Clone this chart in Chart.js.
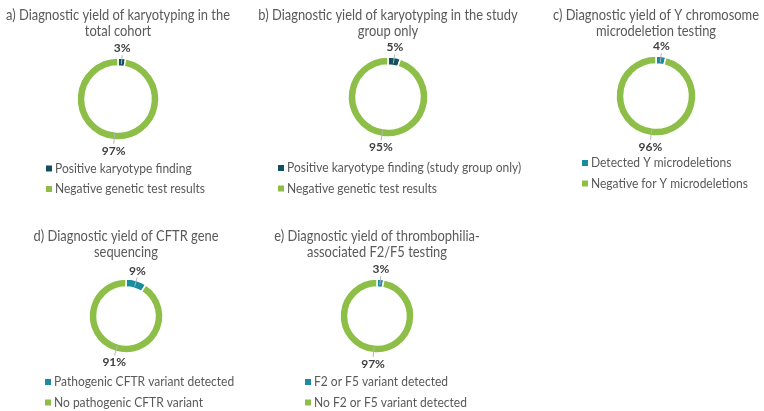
<!DOCTYPE html>
<html>
<head>
<meta charset="utf-8">
<script src="https://cdn.jsdelivr.net/npm/chart.js@4.4.1/dist/chart.umd.min.js"></script>
<style>
  html, body { margin: 0; padding: 0; background: #fff; }
  body { width: 764px; height: 411px; position: relative; overflow: hidden; }
  canvas { position: absolute; }
</style>
</head>
<body>
<canvas id="c0"></canvas>
<canvas id="c1"></canvas>
<canvas id="c2"></canvas>
<canvas id="c3"></canvas>
<canvas id="c4"></canvas>
<script>
// Panel data
const panelTitles = [
  ["a) Diagnostic yield of karyotyping in the", "total cohort"],
  ["b) Diagnostic yield of karyotyping in the study", "group only"],
  ["c) Diagnostic yield of Y chromosome", "microdeletion testing"],
  ["d) Diagnostic yield of CFTR gene", "sequencing"],
  ["e) Diagnostic yield of thrombophilia-", "associated F2/F5 testing"]
];
const positiveLabels = [
  "Positive karyotype finding",
  "Positive karyotype finding (study group only)",
  "Detected Y microdeletions",
  "Pathogenic CFTR variant detected",
  "F2 or F5 variant detected"
];
const negativeLabels = [
  "Negative genetic test results",
  "Negative genetic test results",
  "Negative for Y microdeletions",
  "No pathogenic CFTR variant",
  "No F2 or F5 variant detected"
];
const positiveValues = [3, 5, 4, 9, 3];
const negativeValues = [97, 95, 96, 91, 97];

// colours
const green = "#8dbf48";
const positiveColors = ["#10505f", "#10505f", "#1b8ba0", "#1b8ba0", "#1b8ba0"];

// layout of each panel (absolute page px)
const panels = [
  { cx: 118, halfW: 118, top: 0,   h: 200, cy: 99,  r: 41, legX: 46,  legY: 168.5 },
  { cx: 388, halfW: 135, top: 0,   h: 200, cy: 97,  r: 40, legX: 278, legY: 168 },
  { cx: 656, halfW: 112, top: 0,   h: 200, cy: 96,  r: 40, legX: 582, legY: 163 },
  { cx: 126, halfW: 126, top: 221, h: 190, cy: 316, r: 37, legX: 45,  legY: 382 },
  { cx: 377, halfW: 120, top: 221, h: 190, cy: 316, r: 37, legX: 305, legY: 382 }
];

const fontFamily = "Lato, 'Liberation Sans', Arial, sans-serif";
const titleFont = "15px " + fontFamily;
const legendFont = "13px " + fontFamily;

// the figure's text is set in a narrow face; squeeze Lato horizontally to match
const measure = document.createElement('canvas').getContext('2d');
measure.font = titleFont;
const titleScale = 224 / measure.measureText(panelTitles[0][0]).width;
measure.font = legendFont;
const legendScale = 150 / measure.measureText(negativeLabels[0]).width;

// two-line centred titles
const narrowTitle = {
  id: 'narrowTitle',
  afterDraw(chart, args, opts) {
    const ctx = chart.ctx;
    ctx.save();
    ctx.font = titleFont;
    ctx.fillStyle = '#595959';
    ctx.textAlign = 'center';
    ctx.textBaseline = 'middle';
    opts.lines.forEach((line, k) => {
      ctx.save();
      ctx.translate(chart.width / 2, 15 + k * 16.5);
      ctx.scale(titleScale, 1);
      ctx.fillText(line, 0, 0);
      ctx.restore();
    });
    ctx.restore();
  }
};

// percentage labels with short leader lines
const pctLabels = {
  id: 'pctLabels',
  afterDatasetsDraw(chart) {
    const ctx = chart.ctx;
    const meta = chart.getDatasetMeta(0);
    const values = chart.data.datasets[0].data;
    ctx.save();
    meta.data.forEach((arc, i) => {
      const p = arc.getProps(['x', 'y', 'startAngle', 'endAngle', 'outerRadius'], true);
      const mid = (p.startAngle + p.endAngle) / 2;
      const cos = Math.cos(mid), sin = Math.sin(mid);
      const gap = sin < 0 ? 4 : 5;
      ctx.strokeStyle = '#b4b4b4';
      ctx.lineWidth = 1;
      ctx.beginPath();
      ctx.moveTo(p.x + cos * (p.outerRadius - 6), p.y + sin * (p.outerRadius - 6));
      ctx.lineTo(p.x + cos * (p.outerRadius + gap - 1), p.y + sin * (p.outerRadius + gap - 1));
      ctx.stroke();
      ctx.fillStyle = '#404040';
      ctx.font = "bold 12px " + fontFamily;
      ctx.textAlign = 'center';
      ctx.textBaseline = sin < 0 ? 'bottom' : 'top';
      ctx.fillText(values[i] + '%', p.x + cos * (p.outerRadius + gap), p.y + sin * (p.outerRadius + gap));
    });
    ctx.restore();
  }
};

// stacked legend under each donut
const stackedLegend = {
  id: 'stackedLegend',
  afterDraw(chart, args, opts) {
    const ctx = chart.ctx;
    const ds = chart.data.datasets[0];
    ctx.save();
    ctx.font = legendFont;
    ctx.textBaseline = 'middle';
    ctx.textAlign = 'left';
    chart.data.labels.forEach((lab, i) => {
      const y = opts.y + i * 20.5;
      ctx.fillStyle = ds.backgroundColor[i];
      ctx.fillRect(opts.x, y - 3, 6, 6);
      ctx.fillStyle = '#595959';
      ctx.save();
      ctx.translate(opts.x + 9, y);
      ctx.scale(legendScale, 1);
      ctx.fillText(lab, 0, 0);
      ctx.restore();
    });
    ctx.restore();
  }
};

panels.forEach((pn, i) => {
  const cv = document.getElementById('c' + i);
  const w = pn.halfW * 2;
  const left = pn.cx - pn.halfW;
  cv.width = w;
  cv.height = pn.h;
  cv.style.left = left + 'px';
  cv.style.top = pn.top + 'px';
  const padTop = 40;
  const cyRel = pn.cy - pn.top;
  const padBottom = padTop + pn.h - 2 * cyRel;

  new Chart(cv, {
    type: 'doughnut',
    data: {
      labels: [positiveLabels[i], negativeLabels[i]],
      datasets: [{
        data: [positiveValues[i], negativeValues[i]],
        backgroundColor: [positiveColors[i], green],
        borderColor: '#ffffff',
        borderWidth: 1.5
      }]
    },
    options: {
      responsive: false,
      animation: false,
      radius: pn.r,
      cutout: ((pn.r - 8) / pn.r * 100) + '%',
      layout: { padding: { top: padTop, bottom: padBottom, left: 0, right: 0 } },
      plugins: {
        legend: { display: false },
        tooltip: { enabled: false },
        title: { display: false },
        narrowTitle: { lines: panelTitles[i] },
        stackedLegend: { x: pn.legX - left, y: pn.legY - pn.top }
      }
    },
    plugins: [narrowTitle, pctLabels, stackedLegend]
  });
});
</script>
</body>
</html>
